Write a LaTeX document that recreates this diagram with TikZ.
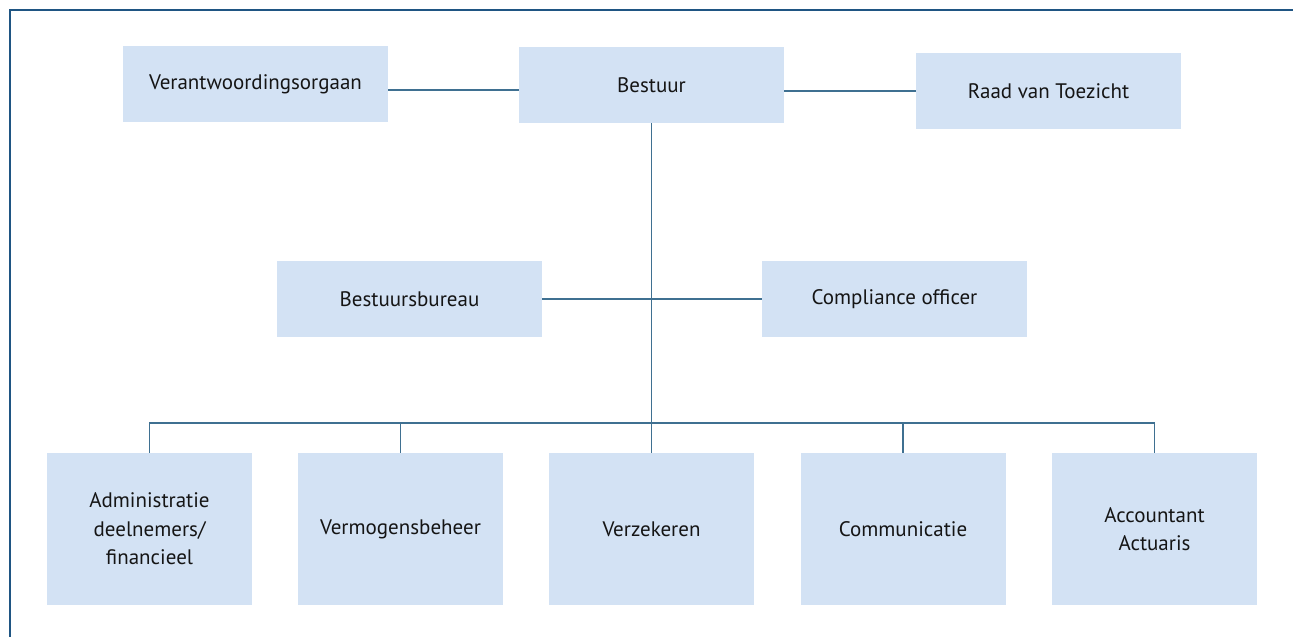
\documentclass[tikz,border=0pt]{standalone}
\usepackage{fontspec}
\setmainfont{PT Sans}
\definecolor{boxfill}{HTML}{D3E2F4}
\definecolor{linecol}{HTML}{3F7091}
\definecolor{framecol}{HTML}{1F5583}
\definecolor{textcol}{HTML}{151515}
\begin{document}
\begin{tikzpicture}[x=1pt,y=-1pt,
  orgbox/.style={fill=boxfill,draw=none,inner sep=0pt,align=center,text=textcol,font=\fontsize{21}{28.5}\selectfont},
  wide/.style={orgbox,minimum width=265pt,minimum height=76pt},
  tall/.style={orgbox,minimum width=205pt,minimum height=152pt},
  conn/.style={draw=linecol,line width=1.4pt}]
\useasboundingbox (0,0) rectangle (1293,637);
\draw[framecol,line width=1.8pt] (10,637) -- (10,10) -- (1293,10);
\node[wide] (va) at (255.5,84) {Verantwoordingsorgaan};
\node[wide] (be) at (651.5,85) {Bestuur};
\node[wide] (rt) at (1048.5,91) {Raad van Toezicht};
\node[wide] (bb) at (409.5,299) {Bestuursbureau};
\node[wide] (co) at (894.5,299) {Compliance officer};
\node[tall] (ad) at (149.5,529) {Administratie\\deelnemers/\\financieel};
\node[tall] (vm) at (400.5,529) {Vermogensbeheer};
\node[tall] (vz) at (651.5,529) {Verzekeren};
\node[tall] (cm) at (903,529) {Communicatie};
\node[tall] (ac) at (1154.5,529) {Accountant\\Actuaris};
\coordinate (bus) at (651.5,423);
\draw[conn] (va.east |- 0,90) -- (be.west |- 0,90);
\draw[conn] (be.east |- 0,91) -- (rt.west |- 0,91);
\draw[conn] (be.south) -- (bus);
\draw[conn] (bb.east) -- (co.west);
\draw[conn] (ad.north) -- (ad.north |- bus) -- (ac.north |- bus) -- (ac.north);
\draw[conn] (vm.north) -- (vm.north |- bus);
\draw[conn] (cm.north) -- (cm.north |- bus);
\draw[conn] (vz.north) -- (bus);
\end{tikzpicture}
\end{document}
